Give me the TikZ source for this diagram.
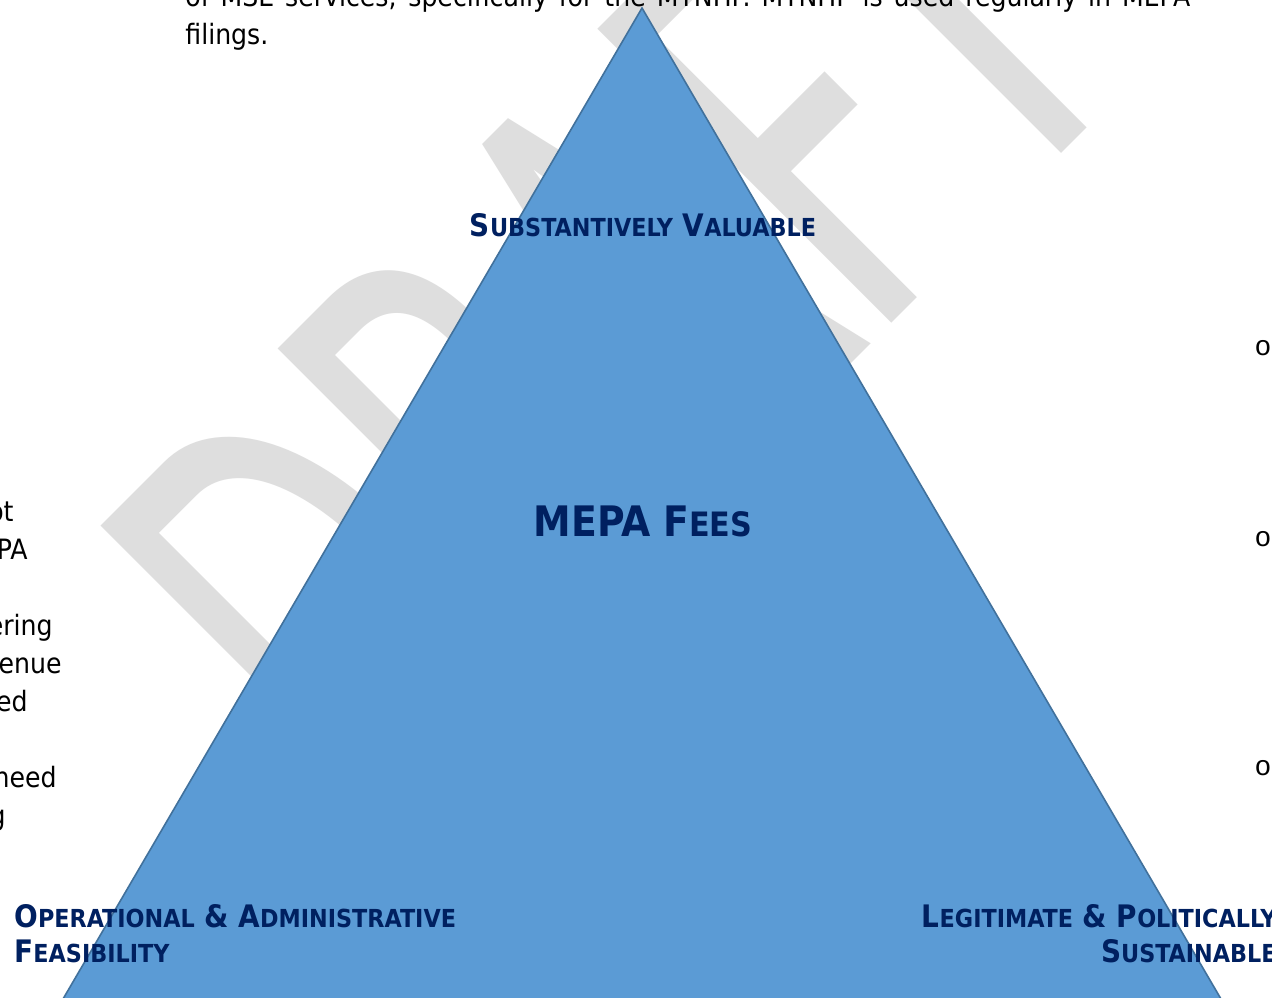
\documentclass[tikz,border=0pt]{standalone}
\usepackage{fontspec}
\usepackage{graphicx}
\setmainfont{DejaVu Sans Condensed}
\newfontfamily\wmfont{Carlito}
\newfontfamily\bulfont{Liberation Mono}
\definecolor{triblue}{HTML}{5B9BD5}
\definecolor{triedge}{HTML}{41719C}
\definecolor{navy}{HTML}{002060}
\definecolor{wmgray}{HTML}{DEDEDE}
\newcommand\smc[1]{\scalebox{0.8}{#1}}
\tikzset{
  lbl/.style={font=\bfseries\fontsize{15.5pt}{18pt}\selectfont, text=navy, inner sep=0},
  bigl/.style={font=\bfseries\fontsize{21pt}{25pt}\selectfont, text=navy, inner sep=0},
  body/.style={font=\fontsize{14pt}{19pt}\selectfont, text=black, inner sep=0},
  wm/.style={font=\wmfont\fontsize{202.5pt}{240pt}\selectfont, text=wmgray, inner sep=0},
  bul/.style={font=\bulfont\fontsize{14pt}{16pt}\selectfont, text=black, inner sep=0},
  tri/.style={fill=triblue, draw=triedge, line width=0.8pt, line join=miter}
}
\begin{document}
\begin{tikzpicture}[x=0.5pt,y=-0.5pt]
\clip (0,0) rectangle (1272,997);
\fill[white] (0,0) rectangle (1272,997);
% watermark
\node[wm, rotate=45, anchor=base west] (wmark) at (375,840) {\scalebox{1}[1.6]{DRAFT}};
% body text fragments
\node[body, anchor=base west] (t1) at (185,6) {\makebox[502.5pt][s]{of MSE services, specifically for the MYNHP. MYNHP is used regularly in MEPA}};
\node[body, anchor=base west] (t2) at (185,44) {filings.};
\node[body, anchor=base east] (l1) at (14,521) {ot};
\node[body, anchor=base east] (l2) at (28,559) {PA};
\node[body, anchor=base east] (l3) at (53,635) {ering};
\node[body, anchor=base east] (l4) at (62,673) {enue};
\node[body, anchor=base east] (l5) at (28,711) {ed};
\node[body, anchor=base east] (l6) at (57,787) {need};
\node[body, anchor=base east] (l7) at (6,825) {g};
% triangle
\coordinate (apex) at (642,8);
\coordinate (bl) at (4,1100);
\coordinate (br) at (1280,1100);
\path[tri] (apex) -- (br) -- (bl) -- cycle;
% bullets
\node[bul, anchor=center] (b1) at (1263,348) {o};
\node[bul, anchor=center] (b2) at (1263,539) {o};
\node[bul, anchor=center] (b3) at (1263,768) {o};
% labels
\node[lbl, anchor=base] (sv) at (643,236) {S\smc{UBSTANTIVELY} V\smc{ALUABLE}};
\node[bigl, anchor=base] (mf) at (643,536) {MEPA F\smc{EES}};
\node[lbl, anchor=base west] (oa1) at (14,927) {O\smc{PERATIONAL} \& A\smc{DMINISTRATIVE}};
\node[lbl, anchor=base west] (oa2) at (14,962) {F\smc{EASIBILITY}};
\node[lbl, anchor=base east] (lp1) at (1277,927) {L\smc{EGITIMATE} \& P\smc{OLITICALLY}};
\node[lbl, anchor=base east] (lp2) at (1277,962) {S\smc{USTAINABLE}};
\end{tikzpicture}
\end{document}
